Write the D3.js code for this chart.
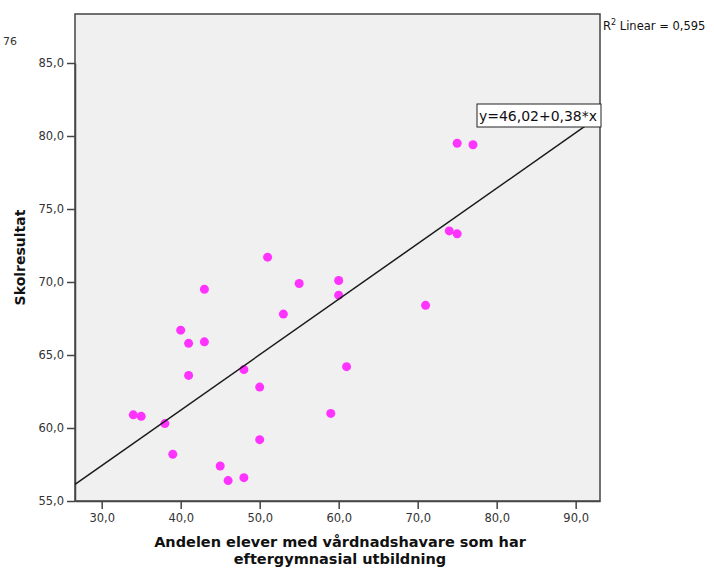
<!DOCTYPE html>
<html><head><meta charset="utf-8">
<script src="https://cdn.jsdelivr.net/npm/d3@7/dist/d3.min.js"></script>
<style>body{margin:0;background:#fff;}svg{display:block;}text{font-family:"DejaVu Sans",sans-serif;}</style>
</head><body>
<svg id="c" width="714" height="569"></svg>
<script>
const xVals = [51,55,60,60,43,53,40,41,43,41,48,50,61,34,35,38,59,50,39,45,46,48,75,77,74,75,71];
const yVals = [71.7,69.9,70.1,69.1,69.5,67.8,66.7,65.8,65.9,63.6,64.0,62.8,64.2,60.9,60.8,60.3,61.0,59.2,58.2,57.4,56.4,56.6,79.5,79.4,73.5,73.3,68.4];
const xTicks = [30,40,50,60,70,80,90];
const yTicks = [55,60,65,70,75,80,85];
const intercept = 46.02, slope = 0.38;
const eqLabel = "y=46,02+0,38*x";
const r2Label = "0,595";
const cornerLabel = "76";
const xTitle = ["Andelen elever med vårdnadshavare som har","eftergymnasial utbildning"];
const yTitle = "Skolresultat";

const svg = d3.select("#c");
const L=75, R=600, T=14, B=501;
const x = d3.scaleLinear().domain([26.62, 93.08]).range([L,R]);
const y = d3.scaleLinear().domain([55, 85]).range([B, 63]);
const fmt = d => d.toFixed(1).replace(".", ",");

svg.append("rect").attr("x",L).attr("y",T).attr("width",R-L).attr("height",B-T)
  .attr("fill","#f0f0f0").attr("stroke","#444").attr("stroke-width",1.5);

// axes
const xa = svg.append("g").attr("transform",`translate(0,${B})`)
  .call(d3.axisBottom(x).tickValues(xTicks).tickFormat(fmt).tickSize(8).tickSizeOuter(0));
const ya = svg.append("g").attr("transform",`translate(${L},0)`)
  .call(d3.axisLeft(y).tickValues(yTicks).tickFormat(fmt).tickSize(8).tickSizeOuter(0));
[xa,ya].forEach(a=>{
  a.select(".domain").attr("stroke","#444").attr("stroke-width",1.5);
  a.selectAll(".tick line").attr("stroke","#444").attr("stroke-width",1.5);
  a.selectAll(".tick text").attr("fill","#333").style("font-size","11.5px");
});
xa.selectAll(".tick text").attr("dy","0.9em");

// points
const pts = xVals.map((v,i)=>({x:v,y:yVals[i]}));
svg.append("g").selectAll("circle").data(pts).join("circle")
  .attr("cx",d=>x(d.x)).attr("cy",d=>y(d.y)).attr("r",4.5).attr("fill","#ff33ff");

// regression line
const x0 = x.domain()[0], x1 = x.domain()[1];
svg.append("line").attr("x1",x(x0)).attr("y1",y(intercept+slope*x0))
  .attr("x2",x(x1)).attr("y2",y(intercept+slope*x1))
  .attr("stroke","#1a1a1a").attr("stroke-width",1.5);

// equation box
const bx=477, by=104, bw=124, bh=23;
svg.append("rect").attr("x",bx).attr("y",by).attr("width",bw).attr("height",bh)
  .attr("fill","#fff").attr("stroke","#222").attr("stroke-width",1);
svg.append("text").attr("x",bx+2).attr("y",by+16.5).text(eqLabel)
  .style("font-size","14px").attr("textLength",118).attr("fill","#111");

// R2 label
const r2 = svg.append("text").attr("x",603).attr("y",30).style("font-size","11.5px").attr("fill","#111");
r2.append("tspan").text("R");
r2.append("tspan").text("2").attr("dy",-5).style("font-size","8px");
r2.append("tspan").text(" Linear = " + r2Label).attr("dy",5);

svg.append("text").attr("x",3).attr("y",45).text(cornerLabel).style("font-size","11px").attr("fill","#333");

// titles
svg.append("text").attr("transform",`translate(25,${(T+B)/2}) rotate(-90)`).attr("text-anchor","middle")
  .text(yTitle).style("font-size","14px").style("font-weight","bold").attr("fill","#111");
svg.append("text").attr("x",340).attr("y",547).attr("text-anchor","middle")
  .text(xTitle[0]).style("font-size","14.5px").style("font-weight","bold").attr("fill","#111");
svg.append("text").attr("x",340).attr("y",564).attr("text-anchor","middle")
  .text(xTitle[1]).style("font-size","14.5px").style("font-weight","bold").attr("fill","#111");
</script>
</body></html>
